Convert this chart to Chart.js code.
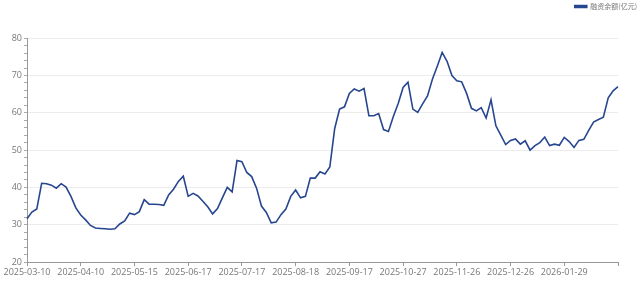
<!DOCTYPE html>
<html>
<head>
<meta charset="utf-8">
<script src="https://cdn.jsdelivr.net/npm/chart.js@4/dist/chart.umd.min.js"></script>
<style>
  html, body { margin: 0; padding: 0; background: #fff; }
  #wrap { width: 640px; height: 281px; }
</style>
</head>
<body>
<div id="wrap"><canvas id="myChart"></canvas></div>
<script>
// shown date labels, one every 11 points
const tickLabels = ['2025-03-10', '2025-04-10', '2025-05-15', '2025-06-17', '2025-07-17', '2025-08-18',
  '2025-09-17', '2025-10-27', '2025-11-26', '2025-12-26', '2026-01-29'];
const labelStep = 11;

// 融资余额 (亿元)
const balance = [
  31.6, 33.4, 34.2, 41.1, 41.0, 40.6, 39.8, 41.0, 40.1, 37.6, 34.5,
  32.6, 31.3, 29.8, 29.1, 29.0, 28.9, 28.8, 28.9, 30.2, 31.0, 33.1,
  32.7, 33.5, 36.7, 35.5, 35.5, 35.4, 35.2, 38.0, 39.5, 41.6, 43.0,
  37.6, 38.4, 37.7, 36.3, 34.8, 32.9, 34.3, 37.2, 40.0, 38.8, 47.2,
  46.9, 44.0, 42.9, 39.8, 35.0, 33.3, 30.5, 30.7, 32.7, 34.2, 37.6,
  39.3, 37.2, 37.6, 42.5, 42.5, 44.2, 43.6, 45.5, 55.8, 61.0, 61.6,
  65.2, 66.4, 65.8, 66.5, 59.2, 59.2, 59.8, 55.5, 55.0, 59.0, 62.5,
  66.8, 68.2, 61.0, 60.1, 62.4, 64.5, 69.0, 72.5, 76.2, 73.8, 70.0,
  68.6, 68.3, 65.2, 61.2, 60.5, 61.4, 58.6, 63.5, 56.5, 54.0, 51.5,
  52.6, 53.0, 51.6, 52.5, 50.0, 51.2, 52.0, 53.5, 51.2, 51.6, 51.3,
  53.4, 52.3, 50.7, 52.6, 52.9, 55.3, 57.5, 58.2, 58.8, 64.0, 65.9,
  67.0
];

const seriesName = '融资余额(亿元)';
const lineColor = '#26468f';

const categories = balance.map(function(v, i) {
  return i % labelStep === 0 ? (tickLabels[i / labelStep] || '') : '';
});

const ctx = document.getElementById('myChart');

new Chart(ctx, {
  type: 'line',
  data: {
    labels: categories,
    datasets: [{
      label: seriesName,
      data: balance,
      borderColor: lineColor,
      backgroundColor: lineColor,
      borderWidth: 1.6,
      pointRadius: 0,
      tension: 0,
      fill: false
    }]
  },
  options: {
    responsive: true,
    maintainAspectRatio: false,
    animation: false,
    layout: {
      padding: 0
    },
    plugins: {
      tooltip: { enabled: false },
      legend: {
        position: 'top',
        align: 'end',
        labels: {
          boxWidth: 12,
          boxHeight: 2,
          padding: 3,
          color: '#777',
          font: { family: 'Noto Sans CJK SC', size: 7 }
        }
      },
      // empty box that keeps the gap between the legend and the plot
      subtitle: {
        display: true,
        text: '',
        weight: 500,
        font: { size: 1 },
        padding: { top: 0, bottom: 17 }
      }
    },
    scales: {
      x: {
        type: 'category',
        offset: false,
        border: { color: '#999' },
        grid: {
          drawOnChartArea: false,
          drawTicks: true,
          tickLength: 4,
          tickColor: '#999'
        },
        ticks: {
          autoSkip: false,
          maxRotation: 0,
          padding: 1,
          color: '#777',
          font: { family: 'Open Sans', size: 9 },
          callback: function(value, i) {
            if (i % labelStep !== 0) return null;
            return tickLabels[i / labelStep] || '';
          }
        },
        afterFit: function(scale) { scale.height = 19; }
      },
      y: {
        min: 20,
        max: 80,
        border: { color: '#999' },
        grid: {
          color: function(c) {
            return c.tick && c.tick.value % 10 === 0 ? '#ececec' : 'rgba(0,0,0,0)';
          },
          tickColor: '#aaa',
          tickLength: 3
        },
        ticks: {
          stepSize: 2,
          autoSkip: false,
          padding: 2,
          color: '#777',
          font: { family: 'Open Sans', size: 9 },
          callback: function(value) {
            return value % 10 === 0 ? value : '';
          }
        },
        afterFit: function(scale) { scale.width = 27; }
      },
      // blank right-hand margin
      yRight: {
        position: 'right',
        display: true,
        min: 20,
        max: 80,
        border: { display: false },
        grid: { drawOnChartArea: false, drawTicks: false },
        ticks: { display: false },
        afterFit: function(scale) { scale.width = 22; }
      }
    }
  }
});
</script>
</body>
</html>
